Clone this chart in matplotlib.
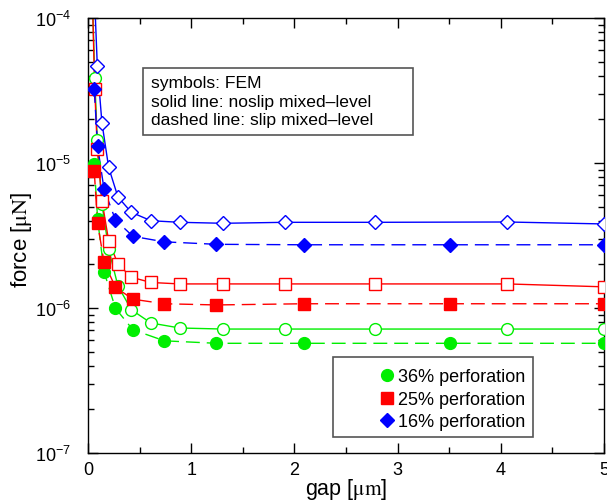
import matplotlib
matplotlib.use("Agg")
import matplotlib.pyplot as plt
from matplotlib.lines import Line2D
from matplotlib.patches import Rectangle
from matplotlib.ticker import LogLocator, MultipleLocator

plt.rcParams['font.family'] = ['Liberation Sans', 'DejaVu Sans']
plt.rcParams['mathtext.fontset'] = 'stix'

# FEM gap positions (um)
gap_open = [0.065, 0.09, 0.135, 0.2, 0.29, 0.42, 0.61, 0.89, 1.31, 1.91, 2.78, 4.06, 5.0]
gap_filled = [0.06, 0.093, 0.155, 0.266, 0.435, 0.74, 1.243, 2.09, 3.51, 5.0]

# noslip FEM (open symbols) forces [uN]
f36_noslip = [3.86e-5, 1.43e-5, 5.2e-6, 2.55e-6, 1.42e-6, 9.73e-7, 7.88e-7, 7.28e-7, 7.16e-7, 7.16e-7, 7.16e-7, 7.16e-7, 7.16e-7]
f25_noslip = [3.24e-5, 1.25e-5, 5.5e-6, 2.91e-6, 2.01e-6, 1.63e-6, 1.50e-6, 1.466e-6, 1.466e-6, 1.466e-6, 1.466e-6, 1.466e-6, 1.40e-6]
f16_noslip = [1.3e-4, 4.69e-5, 1.89e-5, 9.33e-6, 5.83e-6, 4.57e-6, 4.0e-6, 3.90e-6, 3.84e-6, 3.90e-6, 3.90e-6, 3.92e-6, 3.80e-6]

# slip FEM (filled symbols) forces [uN]
f36_slip = [9.85e-6, 4.11e-6, 1.78e-6, 9.95e-7, 7.08e-7, 5.94e-7, 5.71e-7, 5.71e-7, 5.71e-7, 5.71e-7]
f25_slip = [8.85e-6, 3.84e-6, 2.07e-6, 1.39e-6, 1.15e-6, 1.07e-6, 1.05e-6, 1.07e-6, 1.07e-6, 1.07e-6]
f16_slip = [3.24e-5, 1.30e-5, 6.62e-6, 4.05e-6, 3.12e-6, 2.86e-6, 2.75e-6, 2.73e-6, 2.73e-6, 2.73e-6]

# noslip mixed-level line: extra start point where it leaves the top of the plot
gap_line_start = 0.04
f36_line_start = 1.6e-4
f25_line_start = 1.6e-4
f16_line_start = 3.0e-4

colors = {'36': '#00ee00', '25': '#ff0000', '16': '#0000ff'}
series = [
    ('36', 'o', f36_noslip, f36_slip, f36_line_start, 8.5, '36% perforation'),
    ('25', 's', f25_noslip, f25_slip, f25_line_start, 8.0, '25% perforation'),
    ('16', 'D', f16_noslip, f16_slip, f16_line_start, 6.8, '16% perforation'),
]

fig = plt.figure(figsize=(6.07, 5.02), dpi=100)
ax = fig.add_axes([0.145, 0.0956, 0.850, 0.8665])

for key, mk, fn, fs, f0, ms, lab in series:
    c = colors[key]
    ax.plot([gap_line_start] + gap_open, [f0] + fn, '-', color=c, lw=1.0, zorder=2)
    ax.plot(gap_filled, fs, '--', color=c, lw=1.0, dashes=(10, 5), zorder=2)

for key, mk, fn, fs, f0, ms, lab in series:
    c = colors[key]
    ax.plot(gap_open, fn, ls='none', marker=mk, ms=ms, mfc='white', mec=c, mew=1.0, zorder=3)
    ax.plot(gap_filled, fs, ls='none', marker=mk, ms=ms, mfc=c, mec=c, mew=1.0, zorder=4)

ax.set_yscale('log')
ax.set_xlim(0, 5)
ax.set_ylim(1e-7, 1e-4)
ax.xaxis.set_major_locator(MultipleLocator(1))
ax.xaxis.set_minor_locator(MultipleLocator(0.5))
ax.yaxis.set_major_locator(LogLocator(base=10, numticks=10))
ax.yaxis.set_minor_locator(LogLocator(base=10, subs=range(2, 10), numticks=20))
ax.tick_params(which='both', direction='in', top=True, right=True, labelsize=13, width=1)
ax.tick_params(which='major', length=7)
ax.tick_params(which='minor', length=4)
ax.tick_params(axis='x', which='major', pad=6)
ax.tick_params(axis='y', which='major', pad=12)
for s in ax.spines.values():
    s.set_linewidth(1.0)

ax.set_xlabel(r'gap [$\mathrm{\mu m}$]', fontsize=15.5)
ax.xaxis.set_label_coords(0.5, -0.052)
ax.set_ylabel(r'force [$\mathrm{\mu N}$]', fontsize=16)
ax.yaxis.set_label_coords(-0.104, 0.492)

# annotation box
ax.add_patch(Rectangle((0.1066, 0.731), 0.630 - 0.1066, 0.885 - 0.731, transform=ax.transAxes,
                       fc='white', ec='#555555', lw=1.2, zorder=5))
box_lines = ['symbols: FEM', 'solid line: noslip mixed\u2013level', 'dashed line: slip mixed\u2013level']
box_y = [0.841, 0.798, 0.757]
for t, yy in zip(box_lines, box_y):
    ax.text(0.122, yy, t, transform=ax.transAxes, fontsize=12.6, va='baseline', ha='left', zorder=6)

# legend
ax.add_patch(Rectangle((0.4748, 0.0368), 0.8624 - 0.4748, 0.2207 - 0.0368, transform=ax.transAxes,
                       fc='white', ec='#555555', lw=1.2, zorder=5))
handles = [Line2D([], [], ls='none', marker=mk, ms=ms, mfc=colors[key], mec=colors[key])
           for key, mk, fn, fs, f0, ms, lab in series]
labels = [s[6] for s in series]
leg = ax.legend(handles, labels, loc='upper left', bbox_to_anchor=(0.5655, 0.1943),
                fontsize=13, frameon=False, handlelength=0.8, borderpad=0.0, borderaxespad=0.0,
                handletextpad=0.2, labelspacing=0.3)
leg.set_zorder(6)

fig.savefig('out.png', dpi=100)
